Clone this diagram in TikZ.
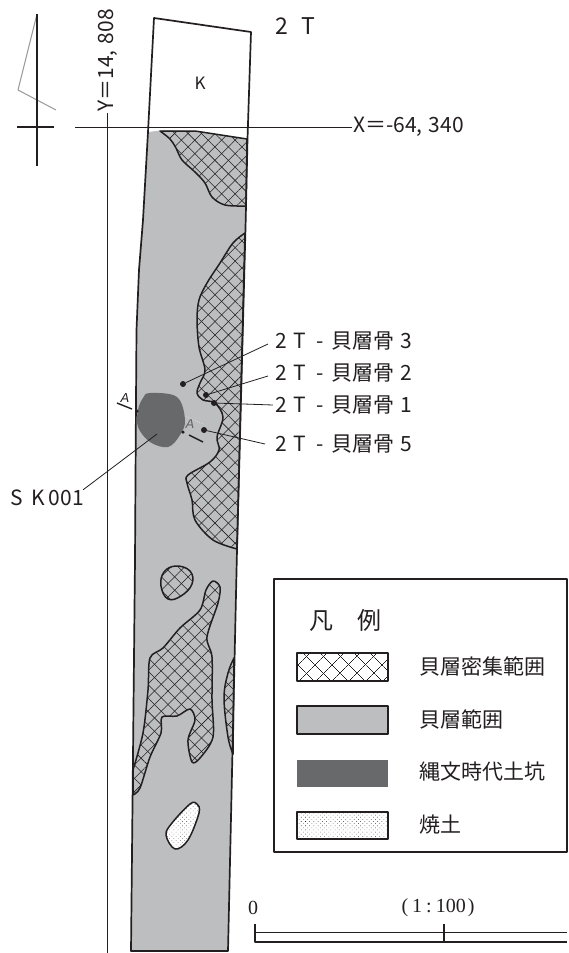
\documentclass[tikz,border=0pt]{standalone}
\usepackage{xcolor}
\usepackage{fontspec}
\usepackage{tikz}
\usetikzlibrary{patterns.meta}
\setmainfont{Noto Sans CJK JP}
\newfontfamily\scalefont{Liberation Serif}
\definecolor{shell}{RGB}{188,190,192}
\definecolor{pit}{RGB}{104,105,107}
\definecolor{rule}{RGB}{35,31,32}
\newcommand{\boneslabel}[1]{2\hspace{.3em}T\hspace{.5em}-\hspace{.4em}貝層骨\hspace{.25em}#1}
\tikzset{
  crosshatch/.style={
    postaction={pattern={Lines[angle=45,distance=#1,line width=.55pt]}, pattern color=rule},
    postaction={pattern={Lines[angle=-45,distance=#1,line width=.55pt]}, pattern color=rule}},
  hatchzone/.style={draw=rule, line width=1.5pt, fill=shell, crosshatch=9.5pt},
  soilzone/.style={draw=rule, line width=1.5pt, fill=white,
    postaction={pattern={Dots[angle=45,distance=3pt,radius=.4pt]}, pattern color=rule}},
  legendtext/.style={font=\fontsize{21}{21}\selectfont, anchor=west, text=rule, inner sep=0pt},
  findlabel/.style={font=\fontsize{21}{21}\selectfont, anchor=west, text=rule, inner ysep=0pt, inner xsep=7pt},
  finddot/.style={circle, fill=rule, inner sep=0pt, minimum size=6pt},
  lead/.style={draw=rule, line width=.8pt},
  gridlabel/.style={font=\fontsize{21}{21}\selectfont, text=rule, inner sep=1pt}
}
\begin{document}
\begin{tikzpicture}[x=1pt, y=-1pt, line join=round]
\useasboundingbox (0,0) rectangle (568,953);
\fill[white] (0,0) rectangle (568,953);

% north mark
\draw[gray!80, line width=1pt] (37,14) -- (18,90) -- (56,110);
\draw[rule, line width=1.4pt] (37,14) -- (37,166);
\draw[rule, line width=1.4pt] (17,127) -- (54,127);

% strip
\fill[shell] (148,132) -- (165,130) -- (195,131) -- (247.5,139) -- (245.7,220) -- (237,550) -- (228,951)
  -- (131,951) -- (135,560) -- (136,400) -- (136.5,330) -- (139,270) -- (143,220) -- cycle;

% dense shell areas
\draw[hatchzone] plot[smooth, tension=.55] coordinates {(160,131) (170,139) (176,148) (182,160) (195,172) (205,183) (212,197) (225,205) (246,206)} -- (247,139) -- (195,131) -- cycle;
\draw[hatchzone] plot[smooth, tension=.55] coordinates {(245,233) (233,243) (220,263) (207,283) (199,300) (197,320) (199,347) (205,370) (200,383) (197,393) (203,400) (215,403) (223,417) (217,437) (219,450) (210,462) (188,475) (187,483) (192,500) (195,520) (213,540) (237,549)} -- cycle;
\draw[hatchzone] plot[smooth cycle, tension=.7] coordinates {(176,566) (190,571) (192,584) (181,596) (168,599) (161,586) (164,572)};
\draw[hatchzone] plot[smooth, tension=.5] coordinates {(133,795) (140,788) (150,757) (161,733) (162,717) (177,716) (190,709) (195,720) (188,740) (192,762) (200,758) (213,737) (212,700) (212,657) (207,637) (218,603) (220,587) (213,581) (206,590) (200,610) (180,628) (163,648) (150,658) (148,690) (143,733) (133,770)} -- cycle;
\draw[hatchzone] plot[smooth, tension=.6] coordinates {(234,658) (228,673) (224,698) (228,737) (233,754)} -- cycle;

% burnt soil and pit
\draw[soilzone] plot[smooth cycle, tension=.6] coordinates {(197,804) (190,804) (172,823) (166,835) (175,849) (188,840) (199,813)};
\fill[pit] plot[smooth cycle, tension=.6] coordinates {(150,393) (177,397) (185,420) (180,435) (168,447) (150,442) (138,427) (138,410) (143,398)};

% strip outline
\draw[rule, line width=1.7pt] (154,18) -- (251,32) -- (247.5,139) -- (245.7,220) -- (237,550) -- (228,951) -- (131,951) -- (135,560) -- (136,400) -- (136.5,330) -- (139,270) -- (143,220) -- (148,132) -- cycle;
\node[font=\fontsize{17}{17}\selectfont, text=rule] (kmark) at (200,83) {K};
\node[font=\fontsize{23}{23}\selectfont, text=rule, anchor=west, inner sep=0pt] (trench) at (275,26) {2\hspace{.6em}T};

% grid lines
\coordinate (xstart) at (75,127);
\coordinate (ystart) at (107.5,953);
\node[gridlabel, anchor=west] (xlabel) at (352,127) {X＝-64,\hspace{.3em}340};
\node[gridlabel, rotate=90, anchor=west] (ylabel) at (107.5,113) {Y＝14,\hspace{.3em}808};
\draw[rule, line width=.8pt] (xstart) -- (xlabel.west);
\draw[rule, line width=.8pt] (ystart) -- (ylabel.west);

% section marks
\coordinate (secA) at (117,403);
\coordinate (secB) at (132,409);
\coordinate (secC) at (189,435);
\coordinate (secD) at (203,442);
\draw[rule, line width=1.4pt] (secA) -- (secB);
\draw[rule, line width=1.4pt] (secC) -- (secD);
\node[font=\itshape\fontsize{13}{13}\selectfont, text=rule, inner sep=0pt] (secleft) at (125,398) {\fontspec{Liberation Sans}\itshape A};
\node[font=\itshape\fontsize{13}{13}\selectfont, text=rule!70, inner sep=0pt] (secright) at (190,424) {\fontspec{Liberation Sans}\itshape A};
\draw[white, dotted, line width=.5pt] (186,416) -- (203,424);
\node[circle, fill=rule, inner sep=0pt, minimum size=3.5pt] (pinA) at (137,411) {};
\node[circle, fill=rule, inner sep=0pt, minimum size=3.5pt] (pinB) at (183,432) {};

% finds
\node[finddot] (bone3) at (183,384) {};
\node[finddot] (bone2) at (206,395) {};
\node[finddot] (bone1) at (214,403) {};
\node[finddot] (bone5) at (204,430) {};
\node[findlabel] (label3) at (268,341) {\boneslabel{3}};
\node[findlabel] (label2) at (268,373) {\boneslabel{2}};
\node[findlabel] (label1) at (268,405) {\boneslabel{1}};
\node[findlabel] (label5) at (268,444) {\boneslabel{5}};
\draw[lead] (bone3) -- ([yshift=-3pt]label3.west);
\draw[lead] (bone2) -- ([yshift=-3pt]label2.west);
\draw[lead] (bone1) -- ([xshift=5pt]label1.west);
\draw[lead] (bone5) -- ([xshift=-3pt]label5.west);
\coordinate (pitpoint) at (157,434);
\node[findlabel] (pitlabel) at (3,498) {S\hspace{.4em}K\hspace{.2em}001};
\draw[lead] (pitpoint) -- ([xshift=-8pt]pitlabel.north east);

% legend
\draw[rule, line width=1.9pt] (274,579) rectangle (567,852);
\node[font=\fontsize{24}{24}\selectfont, text=rule] (legendhead) at (345,620) {凡\hspace{1em}例};
\path[draw=rule, line width=1.5pt, fill=white, crosshatch=13pt] (297,653) rectangle (388,681);
\node[legendtext] (dense) at (419,667) {貝層密集範囲};
\draw[rule, line width=1.5pt, fill=shell] (297,706) rectangle (388,734);
\node[legendtext] (range) at (419,720) {貝層範囲};
\fill[pit] (297,760) rectangle (388,787);
\node[legendtext] (jomon) at (419,772) {縄文時代土坑};
\path[soilzone] (297,812) rectangle (388,839);
\node[legendtext] (burnt) at (419,825) {焼土};

% scale
\node[font=\scalefont\fontsize{20}{20}\selectfont, text=rule] (zero) at (253,908) {0};
\node[font=\scalefont\fontsize{20}{20}\selectfont, text=rule] (ratio) at (438,908) {(\hspace{.2em}1\hspace{.2em}:\hspace{.2em}100\hspace{.1em})};
\draw[rule, line width=1.5pt] (255,924) -- (255,942) -- (567,942);
\draw[rule, line width=.9pt] (255,932) -- (567,932);
\draw[rule, line width=1.2pt] (444,924) -- (444,942);
\end{tikzpicture}
\end{document}
